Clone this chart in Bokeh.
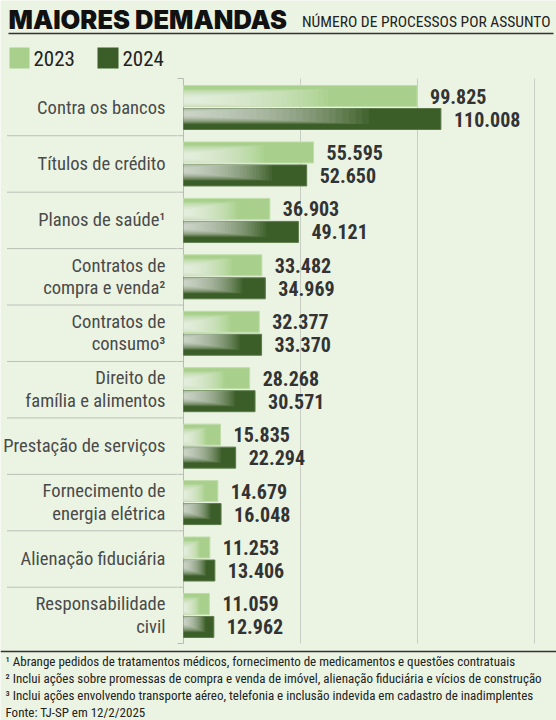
import numpy as np
from bokeh.plotting import figure
from bokeh.models import Range1d, Label
from bokeh.core.properties import value
from bokeh.embed import file_html
from bokeh.resources import INLINE

# ---------------- data ----------------
categories = [
    "Contra os bancos",
    "Títulos de crédito",
    "Planos de saúde¹",
    "Contratos de\ncompra e venda²",
    "Contratos de\nconsumo³",
    "Direito de\nfamília e alimentos",
    "Prestação de serviços",
    "Fornecimento de\nenergia elétrica",
    "Alienação fiduciária",
    "Responsabilidade\ncivil",
]
v2023 = [99825, 55595, 36903, 33482, 32377, 28268, 15835, 14679, 11253, 11059]
v2024 = [110008, 52650, 49121, 34969, 33370, 30571, 22294, 16048, 13406, 12962]
label2023 = ["99.825", "55.595", "36.903", "33.482", "32.377", "28.268", "15.835", "14.679", "11.253", "11.059"]
label2024 = ["110.008", "52.650", "49.121", "34.969", "33.370", "30.571", "22.294", "16.048", "13.406", "12.962"]
grid_ticks = [50000, 100000, 150000]
title = "MAIORES DEMANDAS"
subtitle = "NÚMERO DE PROCESSOS POR ASSUNTO"
years = ["2023", "2024"]
footnotes = [
    "¹ Abrange pedidos de tratamentos médicos, fornecimento de medicamentos e questões contratuais",
    "² Inclui ações sobre promessas de compra e venda de imóvel, alienação fiduciária e vícios de construção",
    "³ Inclui ações envolvendo transporte aéreo, telefonia e inclusão indevida em cadastro de inadimplentes",
    "Fonte: TJ-SP em 12/2/2025",
]

# ---------------- layout helpers ----------------
W, H = 556, 720
X0 = 183.0          # pixel of value 0
PX_PER_UNIT = 234.0 / 100000
ROW0 = 107.0        # pixel centre of first row
ROW_H = 56.44


def X(px):
    return (px - X0) / PX_PER_UNIT


def Y(py):
    return (py - ROW0) / ROW_H


BG = "#EBF4E3"
C23 = "#A8D08C"
C24 = "#3B5E28"
COND = "Roboto Condensed"

p = figure(width=W, height=H, output_backend="svg", toolbar_location=None,
           x_range=Range1d(X(0), X(W)), y_range=Range1d(Y(H), Y(0)),
           min_border=0, x_axis_location=None, y_axis_location=None)
p.background_fill_color = BG
p.border_fill_color = BG
p.outline_line_color = None
p.xgrid.visible = False
p.ygrid.visible = False

n = len(categories)
rows = np.arange(n)
top_y, bot_y = Y(78), Y(643)

# gridlines
p.segment(x0=grid_ticks, x1=grid_ticks, y0=[top_y] * 3, y1=[bot_y] * 3,
          line_color="#C9CEC5", line_width=1)
# axis line
p.segment(x0=[0], x1=[0], y0=[top_y], y1=[bot_y], line_color="#B8BDB4", line_width=1)
# separators + axis ticks
sep = list(rows[:-1] + 0.5)
p.segment(x0=[X(7)] * len(sep), x1=[X(177)] * len(sep), y0=sep, y1=sep,
          line_color="#8C8C8C", line_width=1, line_dash="1 1")
ticks = [top_y] + sep + [bot_y]
p.segment(x0=[X(177)] * len(ticks), x1=[0] * len(ticks), y0=ticks, y1=ticks,
          line_color="#B8BDB4", line_width=1)

# bars
bh = 21.0 / ROW_H
gap = 1.0 / ROW_H
t23 = rows - gap - bh
b23 = rows - gap
t24 = rows + gap
b24 = rows + gap + bh
v23 = np.array(v2023, dtype=float)
v24 = np.array(v2024, dtype=float)

p.quad(left=0, right=v23, top=t23, bottom=b23, fill_color=C23, line_color="#BFDDA9", line_width=1)
p.quad(left=0, right=v24, top=t24, bottom=b24, fill_color=C24, line_color="#5D7A4C", line_width=1)

# gloss overlay (layered white highlights, smooth fade)
N = 28
for k in range(N):
    f = 1 - k / N
    c = t23 + 0.68 * bh
    half = bh * (0.08 + 0.45 * f)
    p.quad(left=0, right=v23 * 0.62 * f, top=np.maximum(c - half, t23), bottom=np.minimum(c + half, b23),
           fill_color="white", fill_alpha=0.05, line_color=None)
    c = t24 + 0.25 * bh
    half = bh * (0.08 + 0.42 * f)
    p.quad(left=0, right=v24 * 0.72 * f, top=np.maximum(c - half, t24), bottom=np.minimum(c + half, b24),
           fill_color="white", fill_alpha=0.05, line_color=None)

# value labels
p.text(x=v23, y=(t23 + b23) / 2, text=label2023, x_offset=13, text_align="left", text_baseline="middle",
       text_font=value(COND), text_font_style="bold", text_font_size="20px", text_color="#333333")
p.text(x=v24, y=(t24 + b24) / 2, text=label2024, x_offset=13, text_align="left", text_baseline="middle",
       text_font=value(COND), text_font_style="bold", text_font_size="20px", text_color="#333333")

# category labels
p.text(x=[X(165)] * n, y=rows, text=categories, text_align="right", text_baseline="middle",
       text_font=value(COND), text_font_size="18.6px", text_color="#4A4A4A", text_line_height=1.02)

# title
p.add_layout(Label(x=X(8), y=Y(19), text=title, text_align="left", text_baseline="middle",
                   text_font="Inter Black", text_font_size="25.5px", text_color="#111111"))
p.add_layout(Label(x=X(550), y=Y(21), text=subtitle, text_align="right", text_baseline="middle",
                   text_font=COND, text_font_size="15.5px", text_color="#222222"))
p.segment(x0=[X(8)], x1=[X(553)], y0=[Y(33)], y1=[Y(33)], line_color="#333333", line_width=1.5)

# legend
p.quad(left=[X(9), X(97)], right=[X(29), X(118)], top=[Y(47), Y(47)], bottom=[Y(68), Y(68)],
       fill_color=[C23, C24], line_color=None)
for xx, yr in zip([X(33), X(122)], years):
    p.add_layout(Label(x=xx, y=Y(57.5), text=yr, text_align="left", text_baseline="middle",
                       text_font=COND, text_font_size="21px", text_color="#222222"))

# bottom rule + footnotes
p.segment(x0=[X(0)], x1=[X(W)], y0=[Y(651)], y1=[Y(651)], line_color="#333333", line_width=1.5)
for i, fn in enumerate(footnotes):
    p.add_layout(Label(x=X(5), y=Y(661 + i * 17), text=fn, text_align="left", text_baseline="middle",
                       text_font=COND, text_font_size="13px", text_color="#222222"))

open("out.html", "w").write(file_html(p, INLINE))
